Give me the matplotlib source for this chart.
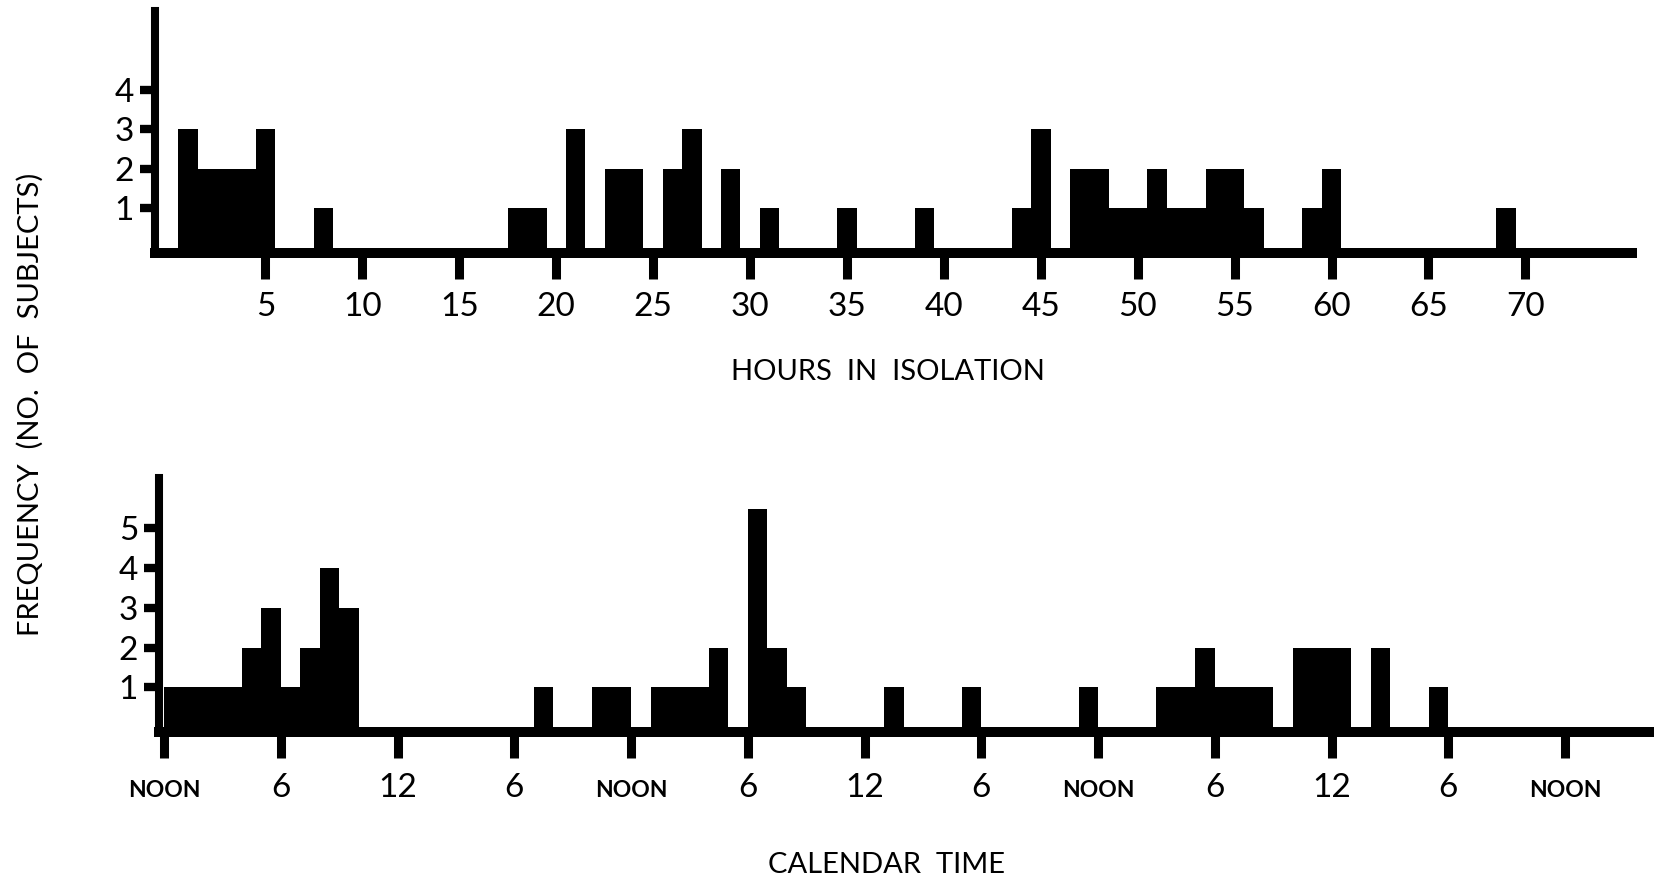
import matplotlib
matplotlib.use("Agg")
import matplotlib.pyplot as plt

# ---------------- data ----------------
top_hours = [1, 2, 3, 4, 5, 8, 18, 19, 21, 23, 24, 26, 27, 29, 31, 35, 39,
             44, 45, 47, 48, 49, 50, 51, 52, 53, 54, 55, 56, 59, 60, 69]
top_counts = [3, 2, 2, 2, 3, 1, 1, 1, 3, 2, 2, 2, 3, 2, 1, 1, 1,
              1, 3, 2, 2, 1, 1, 2, 1, 1, 2, 2, 1, 1, 2, 1]
top_xticks = [5, 10, 15, 20, 25, 30, 35, 40, 45, 50, 55, 60, 65, 70]
top_yticks = [1, 2, 3, 4]

# hours after the first noon (start of each one-hour bin)
bottom_hours = [0, 1, 2, 3, 4, 5, 6, 7, 8, 9, 19, 22, 23, 25, 26, 27, 28,
                30, 31, 32, 37, 41, 47, 51, 52, 53, 54, 55, 56, 58, 59, 60,
                62, 65]
bottom_counts = [1, 1, 1, 1, 2, 3, 1, 2, 4, 3, 1, 1, 1, 1, 1, 1, 2,
                 5.5, 2, 1, 1, 1, 1, 1, 1, 2, 1, 1, 1, 2, 2, 2,
                 2, 1]
bottom_xticks = [0, 6, 12, 18, 24, 30, 36, 42, 48, 54, 60, 66, 72]
bottom_xlabels = ["NOON", "6", "12", "6", "NOON", "6", "12", "6",
                  "NOON", "6", "12", "6", "NOON"]
bottom_yticks = [1, 2, 3, 4, 5]

# ---------------- figure ----------------
W, H, DPI = 1658, 883, 100
plt.rcParams["font.family"] = ["Lato", "DejaVu Sans"]
fig = plt.figure(figsize=(W / DPI, H / DPI), dpi=DPI)
fig.patch.set_facecolor("white")


def px_axes(left, right, top, bottom):
    return fig.add_axes([left / W, 1 - bottom / H, (right - left) / W,
                         (bottom - top) / H])


def style(ax, xpad):
    for s in ("top", "right"):
        ax.spines[s].set_visible(False)
    ax.spines["bottom"].set_linewidth(7.2)
    ax.spines["bottom"].set_position(("outward", 3.6))
    ax.spines["bottom"].set_capstyle("projecting")
    ax.spines["left"].set_linewidth(5.8)
    ax.spines["left"].set_capstyle("projecting")
    ax.tick_params(axis="x", length=19, width=6.5, direction="out",
                   pad=xpad, labelsize=24, color="black")
    ax.tick_params(axis="y", length=11, width=6, direction="out",
                   pad=4, labelsize=24, color="black")
    ax.set_facecolor("none")


# top histogram: hours in isolation
ax1 = px_axes(155, 1632, 10.5, 247.5)
ax1.bar(top_hours, top_counts, width=1.0, align="center", color="black",
        linewidth=0)
ax1.set_xlim(-0.70, 75.5)
ax1.set_ylim(0, 6.0)
ax1.set_xticks(top_xticks, [str(v) for v in top_xticks])
ax1.set_yticks(top_yticks, [str(v) for v in top_yticks])
style(ax1, 27)
for lbl in ax1.get_xticklabels():
    lbl.set_verticalalignment("baseline")

# bottom histogram: calendar time
ax2 = px_axes(159, 1649, 478, 727)
ax2.bar(bottom_hours, bottom_counts, width=1.0, align="edge", color="black",
        linewidth=0)
ax2.set_xlim(-0.26, 76.31)
ax2.set_ylim(0, 6.27)
ax2.set_xticks(bottom_xticks, bottom_xlabels)
ax2.set_yticks(bottom_yticks, [str(v) for v in bottom_yticks])
style(ax2, 28)
for lbl in ax2.get_xticklabels():
    lbl.set_verticalalignment("baseline")
    if lbl.get_text() == "NOON":
        lbl.set_fontsize(16.5)
        lbl.set_fontweight("bold")

# axis titles
fig.text(888 / W, 1 - 372 / H, "HOURS  IN  ISOLATION", ha="center",
         va="center", fontsize=21)
fig.text(887 / W, 1 - 865 / H, "CALENDAR  TIME", ha="center", va="center",
         fontsize=21)
fig.text(30 / W, 1 - 404 / H, "FREQUENCY  (NO.  OF  SUBJECTS)", ha="center",
         va="center", rotation=90, fontsize=21)

fig.savefig("out.png", dpi=DPI, facecolor="white")
